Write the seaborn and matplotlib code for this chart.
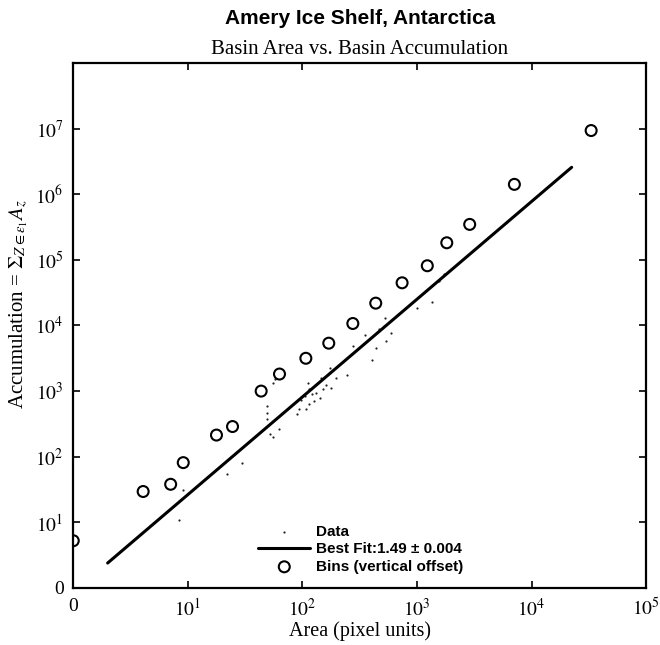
import matplotlib
matplotlib.use("Agg")
import matplotlib.pyplot as plt
import seaborn as sns
import pandas as pd

# log10 values
bin_x = [0.00, 0.61, 0.85, 0.96, 1.25, 1.39, 1.64, 1.80, 2.03, 2.23, 2.44, 2.64,
         2.87, 3.09, 3.26, 3.46, 3.85, 4.52]
bin_y = [0.72, 1.47, 1.58, 1.91, 2.33, 2.46, 3.00, 3.26, 3.50, 3.73, 4.03, 4.34,
         4.65, 4.91, 5.26, 5.54, 6.15, 6.97]

data_x = [0.92, 0.96, 1.34, 1.47, 1.69, 1.69, 1.69, 1.72, 1.74, 1.80, 1.74, 1.92,
          1.95, 1.97, 1.99, 2.02, 2.03, 2.05, 2.06, 2.06, 2.10, 2.12, 2.15, 2.16,
          2.18, 2.21, 2.24, 2.29, 2.39, 2.44, 2.55, 2.61, 2.64, 2.67, 2.71, 2.73,
          2.72, 2.77, 3.00, 3.13, 3.19, 3.24, 1.76, 2.08, 2.25]
data_y = [1.03, 1.49, 1.73, 1.91, 2.77, 2.67, 2.57, 2.34, 2.30, 2.42, 3.13, 2.80,
          2.65, 2.72, 2.87, 2.92, 2.72, 3.13, 3.03, 2.80, 2.85, 2.97, 2.90, 3.20,
          3.03, 3.10, 3.35, 3.20, 3.25, 3.68, 3.85, 3.48, 3.66, 3.94, 3.99, 3.76,
          4.11, 3.88, 4.27, 4.36, 4.68, 4.79, 3.18, 2.95, 3.05]

fit_x = [0.30, 4.35]
fit_y = [0.38, 6.41]

x_ticks = [0, 1, 2, 3, 4, 5]
x_labels = ["0", "$10^{1}$", "$10^{2}$", "$10^{3}$", "$10^{4}$", "$10^{5}$"]
y_ticks = [0, 1, 2, 3, 4, 5, 6, 7]
y_labels = ["0", "$10^{1}$", "$10^{2}$", "$10^{3}$", "$10^{4}$", "$10^{5}$",
            "$10^{6}$", "$10^{7}$"]

sns.set_theme(style="ticks")
plt.rcParams["font.family"] = ["Liberation Serif", "DejaVu Serif"]
plt.rcParams["mathtext.fontset"] = "stix"
plt.rcParams["text.color"] = "black"
plt.rcParams["axes.labelcolor"] = "black"

fig = plt.figure(figsize=(6.6, 6.45), dpi=100)
ax = fig.add_axes([0.111, 0.0884, 0.868, 0.8140])

df_data = pd.DataFrame({"x": data_x, "y": data_y})
df_bins = pd.DataFrame({"x": bin_x, "y": bin_y})
df_fit = pd.DataFrame({"x": fit_x, "y": fit_y})

sns.scatterplot(data=df_data, x="x", y="y", ax=ax, color="#222222", s=2.5,
                marker="o", linewidth=0, label="Data")
sns.lineplot(data=df_fit, x="x", y="y", ax=ax, color="black", linewidth=2.2,
             label="Best Fit:1.49 \u00b1 0.004")
sns.scatterplot(data=df_bins, x="x", y="y", ax=ax, facecolor="none",
                edgecolor="black", linewidth=1.5, s=62, marker="o",
                label="Bins (vertical offset)")

ax.set_xlim(0, 5)
ax.set_ylim(0, 8)
ax.set_xticks(x_ticks)
ax.set_xticklabels(x_labels)
ax.set_yticks(y_ticks)
ax.set_yticklabels(y_labels)
ax.tick_params(direction="in", top=True, right=True, length=5, width=1.2,
               labelsize=14, pad=7, colors="black")
for s in ax.spines.values():
    s.set_linewidth(1.6)
    s.set_color("black")

ax.set_xlabel("Area (pixel units)", fontsize=14.5, labelpad=1, color="black")
ax.set_ylabel(r"Accumulation = $\Sigma_{Z\in\epsilon_1} A_z$", fontsize=15,
              color="black")
ax.yaxis.set_label_coords(-0.075, 0.54)

fig.text(0.545, 0.972, "Amery Ice Shelf, Antarctica", ha="center", va="center",
         fontsize=15, fontweight="bold", color="black",
         family=["Liberation Sans", "DejaVu Sans"])
fig.text(0.545, 0.924, "Basin Area vs. Basin Accumulation", ha="center",
         va="center", fontsize=15, color="black")

leg = ax.legend(loc="lower left", bbox_to_anchor=(0.323, 0.027), frameon=False,
                prop={"family": ["Liberation Sans", "DejaVu Sans"],
                      "weight": "bold", "size": 11},
                handlelength=3.4, handletextpad=0.4, labelspacing=0.22,
                borderpad=0, borderaxespad=0)
for t in leg.get_texts():
    t.set_color("black")

fig.savefig("out.png", dpi=100)
